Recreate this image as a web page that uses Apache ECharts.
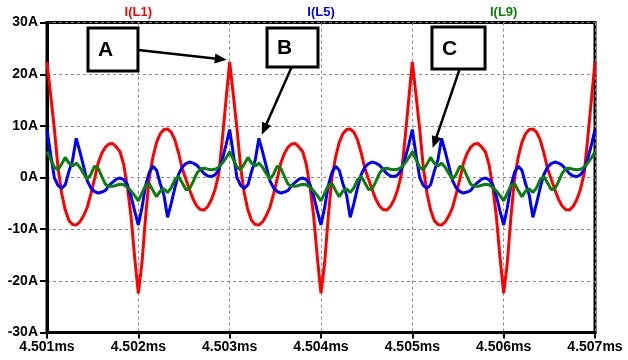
<!DOCTYPE html>
<html>
<head>
<meta charset="utf-8">
<script src="https://cdn.jsdelivr.net/npm/echarts@6/dist/echarts.min.js"></script>
<style>
html,body{margin:0;padding:0;background:#fff;}
#c{width:628px;height:360px;}
</style>
</head>
<body>
<div id="c"></div>
<script>
// sample times (ms)
const sampleTimes = [
4.50100,4.50104,4.50108,4.50112,4.50116,4.50120,4.50124,4.50128,4.50132,4.50136,4.50140,4.50144,4.50148,4.50152,4.50156,4.50160,4.50164,4.50168,4.50172,4.50176,4.50180,4.50184,4.50188,4.50192,4.50196,
4.50200,4.50204,4.50208,4.50212,4.50216,4.50220,4.50224,4.50228,4.50232,4.50236,4.50240,4.50244,4.50248,4.50252,4.50256,4.50260,4.50264,4.50268,4.50272,4.50276,4.50280,4.50284,4.50288,4.50292,4.50296,
4.50300,4.50304,4.50308,4.50312,4.50316,4.50320,4.50324,4.50328,4.50332,4.50336,4.50340,4.50344,4.50348,4.50352,4.50356,4.50360,4.50364,4.50368,4.50372,4.50376,4.50380,4.50384,4.50388,4.50392,4.50396,
4.50400,4.50404,4.50408,4.50412,4.50416,4.50420,4.50424,4.50428,4.50432,4.50436,4.50440,4.50444,4.50448,4.50452,4.50456,4.50460,4.50464,4.50468,4.50472,4.50476,4.50480,4.50484,4.50488,4.50492,4.50496,
4.50500,4.50504,4.50508,4.50512,4.50516,4.50520,4.50524,4.50528,4.50532,4.50536,4.50540,4.50544,4.50548,4.50552,4.50556,4.50560,4.50564,4.50568,4.50572,4.50576,4.50580,4.50584,4.50588,4.50592,4.50596,
4.50600,4.50604,4.50608,4.50612,4.50616,4.50620,4.50624,4.50628,4.50632,4.50636,4.50640,4.50644,4.50648,4.50652,4.50656,4.50660,4.50664,4.50668,4.50672,4.50676,4.50680,4.50684,4.50688,4.50692,4.50696,
4.50700
];

// I(L1) current (A)
const currentL1 = [
22.4,16.0,9.5,2.0,-3.0,-6.3,-8.3,-9.1,-9.2,-8.6,-7.4,-5.8,-3.2,-0.3,2.8,4.7,5.9,6.5,6.6,5.9,5.0,2.5,-1.8,-7.5,-15.5,
-22.4,-16.5,-7.5,0.0,4.0,6.8,8.5,9.3,9.4,8.8,7.3,4.8,1.8,-0.3,-2.3,-4.2,-5.5,-6.2,-6.3,-5.6,-4.3,-2.3,0.6,7.5,15.0,
22.4,16.0,9.5,2.0,-3.0,-6.3,-8.3,-9.1,-9.2,-8.6,-7.4,-5.8,-3.2,-0.3,2.8,4.7,5.9,6.5,6.6,5.9,5.0,2.5,-1.8,-7.5,-15.5,
-22.4,-16.5,-7.5,0.0,4.0,6.8,8.5,9.3,9.4,8.8,7.3,4.8,1.8,-0.3,-2.3,-4.2,-5.5,-6.2,-6.3,-5.6,-4.3,-2.3,0.6,7.5,15.0,
22.4,16.0,9.5,2.0,-3.0,-6.3,-8.3,-9.1,-9.2,-8.6,-7.4,-5.8,-3.2,-0.3,2.8,4.7,5.9,6.5,6.6,5.9,5.0,2.5,-1.8,-7.5,-15.5,
-22.4,-16.5,-7.5,0.0,4.0,6.8,8.5,9.3,9.4,8.8,7.3,4.8,1.8,-0.3,-2.3,-4.2,-5.5,-6.2,-6.3,-5.6,-4.3,-2.3,0.6,7.5,15.0,
22.4
];

// I(L5) current (A)
const currentL5 = [
9.3,4.5,0.0,-1.5,-2.1,-1.4,1.2,3.4,7.6,5.0,2.2,-0.6,-2.0,-2.7,-3.0,-2.8,-2.5,-1.5,-0.9,-0.3,-0.1,-0.4,-1.4,-3.6,-6.5,
-9.2,-5.8,-1.5,1.0,2.2,1.4,-1.2,-3.4,-7.7,-5.0,-2.0,0.6,2.0,2.7,3.0,2.8,2.4,1.6,0.8,0.3,0.2,0.5,1.5,3.6,6.3,
9.3,4.5,0.0,-1.5,-2.1,-1.4,1.2,3.4,7.6,5.0,2.2,-0.6,-2.0,-2.7,-3.0,-2.8,-2.5,-1.5,-0.9,-0.3,-0.1,-0.4,-1.4,-3.6,-6.5,
-9.2,-5.8,-1.5,1.0,2.2,1.4,-1.2,-3.4,-7.7,-5.0,-2.0,0.6,2.0,2.7,3.0,2.8,2.4,1.6,0.8,0.3,0.2,0.5,1.5,3.6,6.3,
9.3,4.5,0.0,-1.5,-2.1,-1.4,1.2,3.4,7.6,5.0,2.2,-0.6,-2.0,-2.7,-3.0,-2.8,-2.5,-1.5,-0.9,-0.3,-0.1,-0.4,-1.4,-3.6,-6.5,
-9.2,-5.8,-1.5,1.0,2.2,1.4,-1.2,-3.4,-7.7,-5.0,-2.0,0.6,2.0,2.7,3.0,2.8,2.4,1.6,0.8,0.3,0.2,0.5,1.5,3.6,6.3,
9.3
];

// I(L9) current (A)
const currentL9 = [
5.0,3.5,2.0,1.5,2.6,3.9,2.8,2.2,2.8,2.0,0.8,-0.3,0.6,2.2,1.8,0.2,-1.3,-1.7,-1.7,-1.5,-1.3,-1.4,-1.9,-2.6,-3.5,
-4.5,-3.0,-1.5,-1.2,-2.5,-3.7,-2.6,-2.2,-2.9,-2.0,-0.4,0.2,-1.0,-2.3,-2.2,-0.8,0.8,1.7,1.8,1.6,1.5,1.6,2.0,2.8,3.8,
5.0,3.5,2.0,1.5,2.6,3.9,2.8,2.2,2.8,2.0,0.8,-0.3,0.6,2.2,1.8,0.2,-1.3,-1.7,-1.7,-1.5,-1.3,-1.4,-1.9,-2.6,-3.5,
-4.5,-3.0,-1.5,-1.2,-2.5,-3.7,-2.6,-2.2,-2.9,-2.0,-0.4,0.2,-1.0,-2.3,-2.2,-0.8,0.8,1.7,1.8,1.6,1.5,1.6,2.0,2.8,3.8,
5.0,3.5,2.0,1.5,2.6,3.9,2.8,2.2,2.8,2.0,0.8,-0.3,0.6,2.2,1.8,0.2,-1.3,-1.7,-1.7,-1.5,-1.3,-1.4,-1.9,-2.6,-3.5,
-4.5,-3.0,-1.5,-1.2,-2.5,-3.7,-2.6,-2.2,-2.9,-2.0,-0.4,0.2,-1.0,-2.3,-2.2,-0.8,0.8,1.7,1.8,1.6,1.5,1.6,2.0,2.8,3.8,
5.0
];

const traceNames = ['I(L1)', 'I(L5)', 'I(L9)'];
const traceColors = ['#ff0000', '#0000ff', '#0a800a'];
const xTickLabels = ['4.501ms','4.502ms','4.503ms','4.504ms','4.505ms','4.506ms','4.507ms'];
const yTickLabels = ['-30A','-20A','-10A','0A','10A','20A','30A'];

// callouts in data coordinates: box [t0, i0, t1, i1], arrow from -> to
const calloutLabels = ['A', 'B', 'C'];
const calloutBoxes = [
  [4.501449, 28.96, 4.501996, 20.64],
  [4.503409, 28.96, 4.503967, 21.41],
  [4.505215, 29.15, 4.505796, 21.03]
];
const calloutFrom = [[4.502000, 24.7], [4.503679, 21.4], [4.505514, 20.8]];
const calloutTo = [[4.502968, 22.8], [4.503351, 8.3], [4.505223, 5.7]];

const chart = echarts.init(document.getElementById('c'), null, {renderer: 'canvas'});
const seriesValues = [currentL1, currentL5, currentL9];
const font = 'Liberation Sans, Arial, sans-serif';

chart.setOption({
  animation: false,
  backgroundColor: '#fff',
  grid: {left: 47, right: 33, top: 22.6, bottom: 27.5, show: true, borderColor: '#000', borderWidth: 3, backgroundColor: 'transparent'},
  xAxis: {
    type: 'value', min: 4.501, max: 4.507, interval: 0.001,
    axisLine: {show: true, onZero: false, lineStyle: {color: '#000', width: 3}},
    axisTick: {show: true, length: 6, lineStyle: {color: '#000', width: 2}},
    axisLabel: {
      margin: 8, color: '#000', fontSize: 14, fontWeight: 'bold', fontFamily: font,
      formatter: function (v) { return xTickLabels[Math.round((v - 4.501) / 0.001)]; }
    },
    splitLine: {show: true, lineStyle: {color: '#8a8a8a', width: 1, type: [3, 3]}}
  },
  yAxis: {
    type: 'value', min: -30, max: 30, interval: 10,
    axisLine: {show: true, onZero: false, lineStyle: {color: '#000', width: 3}},
    axisTick: {show: true, length: 7, lineStyle: {color: '#000', width: 2}},
    axisLabel: {
      margin: 9, color: '#000', fontSize: 14, fontWeight: 'bold', fontFamily: font,
      formatter: function (v) { return yTickLabels[Math.round((v + 30) / 10)]; }
    },
    splitLine: {show: true, lineStyle: {color: '#8a8a8a', width: 1, type: [3, 3]}}
  },
  series: traceNames.map(function (name, k) {
    return {
      name: name, type: 'line', showSymbol: false, symbol: 'none',
      lineStyle: {color: traceColors[k], width: 3},
      itemStyle: {color: traceColors[k]},
      z: 2 + k,
      data: sampleTimes.map(function (t, i) { return [t, seriesValues[k][i]]; })
    };
  })
});

function px(p) { return chart.convertToPixel({gridIndex: 0}, p); }

const graphics = [];
// trace labels above the plot, evenly spaced across plot width
const leftPx = px([4.501, 0])[0];
const rightPx = px([4.507, 0])[0];
traceNames.forEach(function (name, k) {
  graphics.push({
    type: 'text', z: 100,
    style: {
      text: name, x: leftPx + (rightPx - leftPx) * (k + 0.5) / 3, y: 12.5,
      fill: traceColors[k], font: 'bold 13px ' + font,
      textAlign: 'center', textVerticalAlign: 'middle'
    }
  });
});

calloutLabels.forEach(function (lab, k) {
  const b = calloutBoxes[k];
  const p0 = px([b[0], b[1]]);
  const p1 = px([b[2], b[3]]);
  graphics.push({
    type: 'rect', z: 100,
    shape: {x: p0[0], y: p0[1], width: p1[0] - p0[0], height: p1[1] - p0[1]},
    style: {fill: '#fff', stroke: '#000', lineWidth: 3}
  });
  graphics.push({
    type: 'text', z: 101,
    style: {
      text: lab, x: p0[0] + 10, y: (p0[1] + p1[1]) / 2 + 1,
      fill: '#000', font: 'bold 21px ' + font,
      textAlign: 'left', textVerticalAlign: 'middle'
    }
  });
  const s = px(calloutFrom[k]);
  const e = px(calloutTo[k]);
  const dx = e[0] - s[0], dy = e[1] - s[1];
  const len = Math.sqrt(dx * dx + dy * dy);
  const ux = dx / len, uy = dy / len;
  const hl = 12, hw = 5;
  const bx = e[0] - ux * hl, by = e[1] - uy * hl;
  graphics.push({
    type: 'line', z: 100,
    shape: {x1: s[0], y1: s[1], x2: bx + ux * 2, y2: by + uy * 2},
    style: {stroke: '#000', lineWidth: 2.5}
  });
  graphics.push({
    type: 'polygon', z: 100,
    shape: {points: [[e[0], e[1]], [bx - uy * hw, by + ux * hw], [bx + uy * hw, by - ux * hw]]},
    style: {fill: '#000'}
  });
});

chart.setOption({graphic: graphics});
</script>
</body>
</html>
